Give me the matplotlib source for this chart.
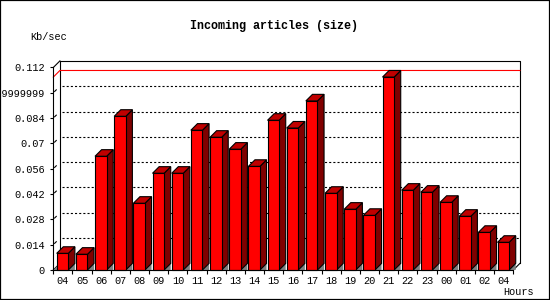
import matplotlib
matplotlib.use("Agg")
import matplotlib.pyplot as plt
from matplotlib.patches import Rectangle, Polygon

plt.rcParams['font.family'] = ['Liberation Mono', 'DejaVu Sans Mono']
plt.rcParams['lines.scale_dashes'] = False

# data
hours = ['04', '05', '06', '07', '08', '09', '10', '11', '12', '13', '14', '15',
         '16', '17', '18', '19', '20', '21', '22', '23', '00', '01', '02', '04']
values = [0.0092, 0.0087, 0.0629, 0.0850, 0.0369, 0.0535, 0.0535, 0.0773,
          0.0734, 0.0668, 0.0573, 0.0828, 0.0785, 0.0935, 0.0424, 0.0336,
          0.0302, 0.1067, 0.0441, 0.0430, 0.0374, 0.0297, 0.0208, 0.0153]
ytick_values = [0, 0.014, 0.028, 0.042, 0.056, 0.07, 0.084, 0.098, 0.112]
ytick_labels = ['0', '0.014', '0.028', '0.042', '0.056', '0.07', '0.084',
                '0.09999999', '0.112']
title = 'Incoming articles (size)'
ylabel = 'Kb/sec'
xlabel = 'Hours'

W, H = 550, 300
fig = plt.figure(figsize=(W / 100, H / 100), dpi=100)
fig.patches.append(Rectangle((0, 0), 1, 1, transform=fig.transFigure,
                             fill=False, edgecolor='black', lw=1.6))

# front plane of the plot area (pixels)
left_px, right_px, bottom_px, top_px = 53.3, 513.3, 270, 67.5
ax = fig.add_axes([left_px / W, 1 - bottom_px / H,
                   (right_px - left_px) / W, (bottom_px - top_px) / H])
n = len(values)
xmin, xmax = -0.5, n - 0.5
ymin, ymax = 0, ytick_values[-1]
ax.set_xlim(xmin, xmax)
ax.set_ylim(ymin, ymax)
for s in ax.spines.values():
    s.set_visible(False)

# 3d depth in data units
depth_px = 6.6
dx = depth_px / ((right_px - left_px) / (xmax - xmin))
dy = depth_px / ((bottom_px - top_px) / (ymax - ymin))

lw = 0.8
kw = dict(clip_on=False)

# back wall grid
for yv in ytick_values[1:-1]:
    ax.plot([xmin + dx + 0.1, xmax + dx], [yv + dy, yv + dy], color='black',
            lw=lw, dashes=(1.5, 1.5), zorder=1, **kw)
    ax.plot([xmin + 0.2 * dx, xmin + 0.45 * dx],
            [yv + 0.2 * dy, yv + 0.45 * dy], color='black', lw=lw, zorder=1, **kw)

# max value line on back wall
vmax = max(values)
ax.plot([xmin, xmin + dx, xmax + dx], [vmax, vmax + dy, vmax + dy],
        color='red', lw=lw, zorder=1.5, **kw)

# frame
ax.plot([xmin + dx, xmin + dx, xmax + dx, xmax + dx],
        [dy, ymax + dy, ymax + dy, dy], color='black', lw=lw, zorder=1, **kw)
ax.plot([xmin, xmin + dx], [ymax, ymax + dy], color='black', lw=lw, zorder=1, **kw)
ax.plot([xmin, xmin], [ymin, ymax], color='black', lw=lw, zorder=4, **kw)
ax.plot([xmin, xmin + dx], [0, dy], color='black', lw=lw, zorder=1, **kw)
ax.plot([xmax, xmax + dx], [0, dy], color='black', lw=lw, zorder=1, **kw)
ax.add_patch(Polygon([(xmin, 0), (xmin + dx, dy), (xmin + dx, 0)],
                     closed=True, facecolor='#808080', edgecolor='none',
                     zorder=2, **kw))

# bars
bw = 0.605
off = 0.177
for i, v in enumerate(values):
    x0 = i - 0.5 + off
    x1 = x0 + bw
    ax.add_patch(Polygon([(x1, 0), (x1 + dx, dy), (x1 + dx, 0)], closed=True,
                         facecolor='#808080', edgecolor='none', zorder=2, **kw))
    ax.add_patch(Polygon([(x1, 0), (x1 + dx, dy), (x1 + dx, v + dy), (x1, v)],
                         closed=True, facecolor='#800000', edgecolor='black',
                         lw=lw, zorder=3, **kw))
    ax.add_patch(Polygon([(x0, v), (x0 + dx, v + dy), (x1 + dx, v + dy), (x1, v)],
                         closed=True, facecolor='#c00000', edgecolor='black',
                         lw=lw, zorder=3, **kw))
    ax.add_patch(Rectangle((x0, 0), bw, v, facecolor='#ff0000',
                           edgecolor='black', lw=lw, zorder=3.5, **kw))

# x axis line
ax.plot([xmin, xmax], [0, 0], color='black', lw=lw, zorder=4, **kw)

# ticks
ax.set_xticks([i - 0.5 for i in range(n + 1)])
ax.set_xticklabels([])
ax.set_xticks(range(n), minor=True)
ax.set_xticklabels(hours, minor=True, fontsize=7.4)
ax.tick_params(axis='x', which='major', length=3, width=lw, direction='out')
ax.tick_params(axis='x', which='minor', length=0, pad=4.2)
ax.set_yticks(ytick_values)
ax.set_yticklabels(ytick_labels, fontsize=7.4)
ax.tick_params(axis='y', length=2.4, width=lw, pad=3.6)

fig.text(273.5 / W, 1 - 26.5 / H, title, ha='center', va='center',
         fontsize=8.5, fontweight='bold')
fig.text(30 / W, 1 - 36.7 / H, ylabel, ha='left', va='center', fontsize=7.4)
fig.text(519 / W, 1 - 292 / H, xlabel, ha='center', va='center', fontsize=7.4)

fig.savefig('out.png', dpi=100)
